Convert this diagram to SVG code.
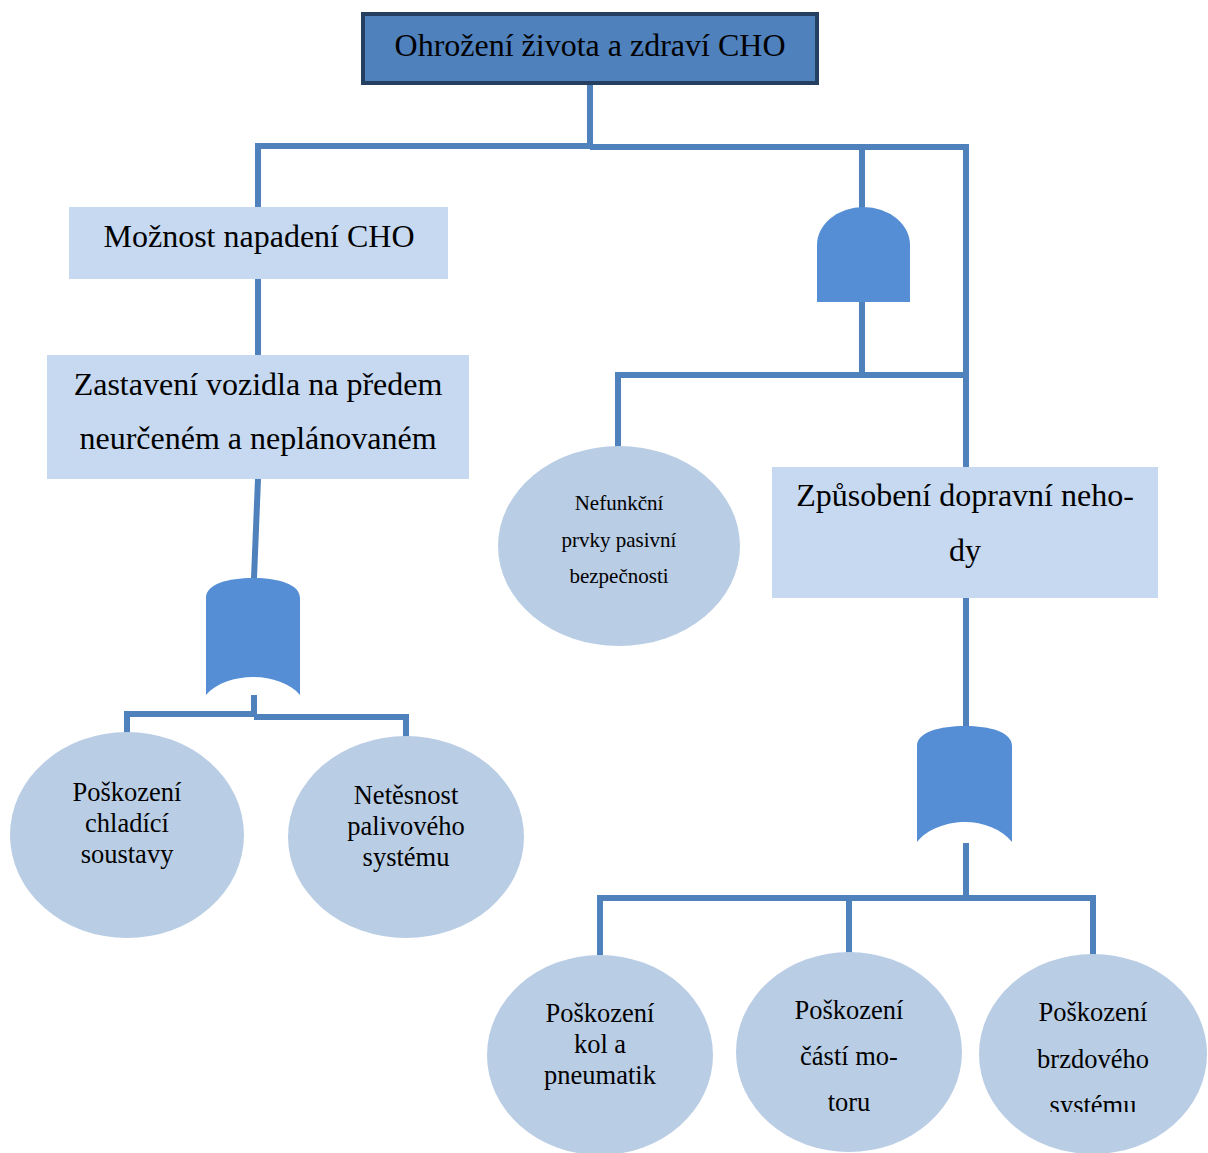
<svg xmlns="http://www.w3.org/2000/svg" width="1208" height="1153" viewBox="0 0 1208 1153">
  <style>
    .box { fill: #C6D9F1; }
    .leaf { fill: #B9CDE5; }
    .gate { fill: #558ED5; }
    .wire { fill: none; stroke: #4F81BD; stroke-width: 6; stroke-linecap: butt; stroke-linejoin: miter; }
    text { font-family: 'Liberation Serif', 'DejaVu Serif', serif; fill: #000000; text-anchor: middle; }
    .big { font-size: 32px; }
    .mid { font-size: 26.5px; }
    .small { font-size: 21px; }
  </style>
  <defs>
    <clipPath id="clipBottom">
      <rect x="0" y="0" width="1208" height="1112"/>
    </clipPath>
  </defs>
  <rect width="1208" height="1153" fill="#FFFFFF"/>

  <!-- connectors -->
  <g id="connectors" class="wire">
    <path d="M590,85 V147"/>
    <path d="M258,207 V146 H590"/>
    <path d="M590,147 H865"/>
    <path d="M862,208 V147 H966 V467"/>
    <path d="M258,279 V355"/>
    <path d="M258,479 L254,578"/>
    <path d="M254,695 V716"/>
    <path d="M127,733 V714 H254"/>
    <path d="M254,717 H406 V738"/>
    <path d="M862,302 V375"/>
    <path d="M618,448 V375 H966"/>
    <path d="M966,598 V726"/>
    <path d="M966,843 V898"/>
    <path d="M600,955 V898 H1093 V955"/>
    <path d="M849,898 V953"/>
  </g>

  <!-- top event -->
  <g id="top">
    <rect x="363" y="14" width="454" height="69" fill="#4F81BD" stroke="#243F60" stroke-width="4"/>
    <text class="big" x="590" y="56">Ohrožení života a zdraví CHO</text>
  </g>

  <g id="napadeni">
    <rect class="box" x="69" y="207" width="379" height="72"/>
    <text class="big" x="259" y="247">Možnost napadení CHO</text>
  </g>

  <g id="zastaveni">
    <rect class="box" x="47" y="355" width="422" height="124"/>
    <text class="big" x="258" y="395">Zastavení vozidla na předem</text>
    <text class="big" x="258" y="449">neurčeném a neplánovaném</text>
  </g>

  <!-- OR gate under Zastavení -->
  <g id="or-left">
    <path class="gate" d="M206,695 L206,598 C206,584 228,578 253,578 C278,578 300,584 300,598 L300,695 C290,683 271,677 253,677 C235,677 216,683 206,695 Z"/>
  </g>

  <g id="chladici">
    <ellipse class="leaf" cx="127" cy="835" rx="117" ry="103"/>
    <text class="mid" x="127" y="801">Poškození</text>
    <text class="mid" x="127" y="832">chladící</text>
    <text class="mid" x="127" y="863">soustavy</text>
  </g>

  <g id="palivovy">
    <ellipse class="leaf" cx="406" cy="837" rx="118" ry="101"/>
    <text class="mid" x="406" y="804">Netěsnost</text>
    <text class="mid" x="406" y="835">palivového</text>
    <text class="mid" x="406" y="866">systému</text>
  </g>

  <!-- AND gate on the right branch -->
  <g id="and-right">
    <path class="gate" d="M817,302 L817,245 A46.5,38 0 0 1 910,245 L910,302 Z"/>
  </g>

  <g id="pasivni">
    <ellipse class="leaf" cx="619" cy="546" rx="121" ry="100"/>
    <text class="small" x="619" y="510">Nefunkční</text>
    <text class="small" x="619" y="547">prvky pasivní</text>
    <text class="small" x="619" y="583">bezpečnosti</text>
  </g>

  <g id="nehoda">
    <rect class="box" x="772" y="467" width="386" height="131"/>
    <text class="big" x="965" y="506">Způsobení dopravní neho-</text>
    <text class="big" x="965" y="561">dy</text>
  </g>

  <!-- OR gate under Způsobení -->
  <g id="or-right">
    <path class="gate" d="M917,842 L917,746 C917,732 940,726 965,726 C990,726 1012,732 1012,746 L1012,842 C1002,829 983,822 965,822 C947,822 927,829 917,842 Z"/>
  </g>

  <g id="kola">
    <ellipse class="leaf" cx="600" cy="1055" rx="113" ry="100"/>
    <text class="mid" x="600" y="1022">Poškození</text>
    <text class="mid" x="600" y="1053">kol a</text>
    <text class="mid" x="600" y="1084">pneumatik</text>
  </g>

  <g id="motor">
    <ellipse class="leaf" cx="849" cy="1052" rx="113" ry="100"/>
    <text class="mid" x="849" y="1019">Poškození</text>
    <text class="mid" x="849" y="1065">částí mo-</text>
    <text class="mid" x="849" y="1111">toru</text>
  </g>

  <g id="brzdy">
    <ellipse class="leaf" cx="1093" cy="1054" rx="114" ry="100"/>
    <g clip-path="url(#clipBottom)">
      <text class="mid" x="1093" y="1021">Poškození</text>
      <text class="mid" x="1093" y="1068">brzdového</text>
      <text class="mid" x="1093" y="1114">systému</text>
    </g>
  </g>
</svg>
